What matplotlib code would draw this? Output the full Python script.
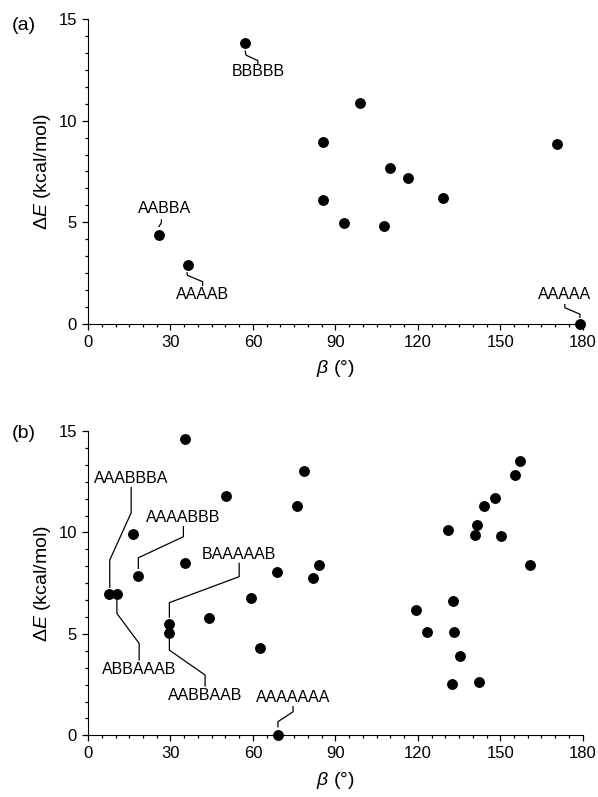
import matplotlib
matplotlib.use('Agg')
import matplotlib.pyplot as plt
from matplotlib.ticker import MultipleLocator, AutoMinorLocator

plt.rcParams['font.family'] = ['Liberation Sans', 'DejaVu Sans']
plt.rcParams['mathtext.fontset'] = 'custom'
plt.rcParams['mathtext.rm'] = 'Liberation Sans'
plt.rcParams['mathtext.it'] = 'Liberation Sans:italic'

# panel (a): five-unit chains
beta_a = [57.2, 99.1, 85.5, 170.7, 109.9, 116.3, 85.5, 129.0, 93.3, 107.8,
          179.0, 25.9, 36.2]
de_a = [13.8, 10.86, 8.97, 8.87, 7.67, 7.2, 6.12, 6.22, 4.95, 4.84,
        0.0, 4.39, 2.92]

# panel (b): seven-unit chains
beta_b = [35.2, 50.3, 76.0, 78.7, 16.5, 35.2, 18.3, 68.6, 84.2, 81.9,
          59.2, 7.65, 10.4, 44.1, 29.6, 29.6, 62.7, 69.1,
          157.1, 155.5, 148.2, 144.2, 131.1, 141.4, 140.7, 150.3, 160.8,
          132.9, 119.3, 123.3, 133.1, 135.5, 132.4, 142.1]
de_b = [14.59, 11.78, 11.30, 13.01, 9.9, 8.51, 7.87, 8.03, 8.41, 7.74,
        6.77, 6.97, 6.97, 5.78, 5.49, 5.06, 4.32, 0.0,
        13.53, 12.84, 11.68, 11.30, 10.10, 10.36, 9.89, 9.81, 8.38,
        6.60, 6.18, 5.11, 5.11, 3.91, 2.54, 2.63]

# labels: text, text position, leader path (data coords)
labels_a = [
    ('BBBBB', (61.8, 12.40), [(57.2, 13.42), (57.5, 13.22), (61.8, 12.95), (61.8, 12.82)]),
    ('AABBA', (27.8, 5.66), [(25.8, 4.79), (26.7, 4.98), (26.7, 5.12)]),
    ('AAAAB', (41.8, 1.43), [(36.0, 2.52), (36.2, 2.39), (41.7, 2.08), (41.7, 1.90)]),
    ('AAAAA', (173.5, 1.43), [(179.0, 0.33), (179.0, 0.48), (173.5, 0.80), (173.5, 0.95)]),
]
labels_b = [
    ('AAABBBA', (15.7, 12.67), [(15.7, 12.22), (15.7, 10.97), (7.9, 8.64), (7.9, 7.30)]),
    ('AAAABBB', (34.7, 10.74), [(34.7, 10.28), (34.7, 9.79), (18.3, 8.75), (18.3, 8.23)]),
    ('BAAAAAB', (55.0, 8.92), [(55.0, 8.48), (55.0, 7.82), (29.6, 6.54), (29.6, 5.82)]),
    ('ABBAAAB', (18.6, 3.22), [(10.5, 6.65), (10.5, 6.01), (18.6, 4.53), (18.6, 3.71)]),
    ('AABBAAB', (42.6, 1.95), [(29.6, 4.73), (29.6, 4.20), (42.6, 2.97), (42.6, 2.43)]),
    ('AAAAAAA', (74.5, 1.87), [(69.1, 0.42), (69.1, 0.67), (74.6, 1.16), (74.6, 1.41)]),
]

fig = plt.figure(figsize=(5.98, 7.97), dpi=100)
ax_a = fig.add_axes([0.1472, 0.5935, 0.8272, 0.3827])
ax_b = fig.add_axes([0.1472, 0.0774, 0.8272, 0.3818])


def style(ax, tag, tag_y):
    ax.set_xlim(0, 180)
    ax.set_ylim(0, 15)
    ax.spines['top'].set_visible(False)
    ax.spines['right'].set_visible(False)
    ax.xaxis.set_major_locator(MultipleLocator(30))
    ax.xaxis.set_minor_locator(MultipleLocator(5))
    ax.yaxis.set_major_locator(MultipleLocator(5))
    ax.yaxis.set_minor_locator(AutoMinorLocator(6))
    ax.tick_params(which='major', direction='out', length=4.5, width=0.9, labelsize=12)
    ax.tick_params(which='minor', direction='out', length=2.3, width=0.9)
    ax.set_xlabel(r'$\beta$ (°)', fontsize=14, labelpad=6)
    ax.set_ylabel(r'$\Delta E$ (kcal/mol)', fontsize=14, labelpad=4)
    ax.text(-0.155, tag_y, tag, transform=ax.transAxes, fontsize=14,
            ha='left', va='center')


for ax, xs, ys, labs, tag, tag_y in [(ax_a, beta_a, de_a, labels_a, '(a)', 0.98),
                                     (ax_b, beta_b, de_b, labels_b, '(b)', 0.993)]:
    style(ax, tag, tag_y)
    ax.plot(xs, ys, 'o', color='black', markersize=6.8, clip_on=False, zorder=3)
    for text, (tx, ty), path in labs:
        px, py = zip(*path)
        ax.plot(px, py, color='black', lw=0.9, clip_on=False)
        ax.text(tx, ty, text, fontsize=11.5, ha='center', va='center')

fig.savefig('out.png', dpi=100)
